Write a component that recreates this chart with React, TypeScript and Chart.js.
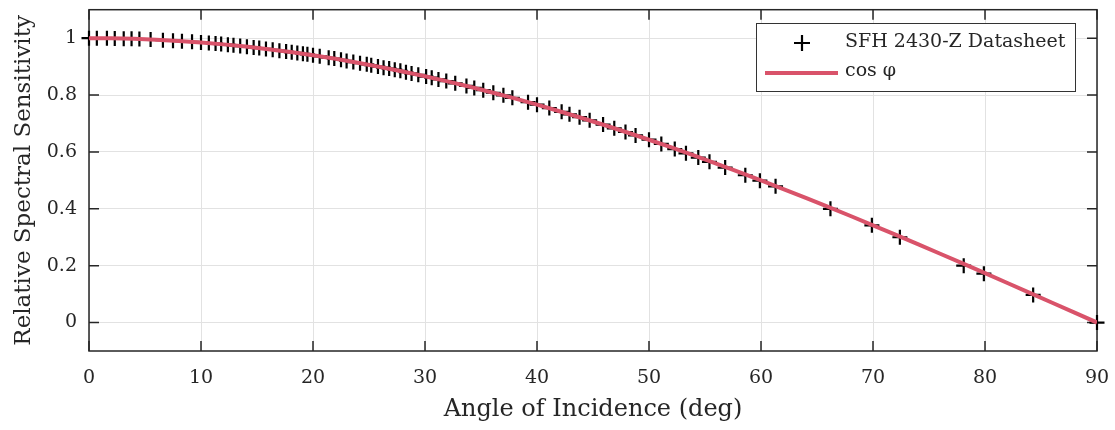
import React, { useEffect, useRef } from "react";
import { Chart, registerables } from "chart.js";

Chart.register(...registerables);

// ---- Data ----
const datasheetAngle = [
  0, 0.7, 1.6, 2.3, 3.1, 3.8, 4.5, 5.5, 6.6, 7.5,
  8.3, 9.2, 10.0, 10.7, 11.3, 11.8, 12.4, 12.9, 13.5, 14.1,
  14.7, 15.2, 15.8, 16.4, 17.0, 17.6, 18.1, 18.6, 19.1, 19.5,
  20.0, 20.6, 21.4, 21.9, 22.5, 23.0, 23.6, 24.2, 24.8, 25.2,
  25.8, 26.3, 26.8, 27.3, 27.8, 28.3, 28.8, 29.4, 30.1, 30.6,
  31.2, 31.9, 32.7, 33.7, 34.4, 35.2, 36.1, 37.0, 37.8, 39.2,
  40.0, 41.1, 42.2, 42.9, 43.8, 44.7, 45.9, 46.9, 47.9, 48.8,
  50.0, 51.1, 52.3, 53.3, 54.4, 55.4, 56.8, 58.6, 59.9, 61.3,
  66.2, 69.9, 72.4, 78.1, 79.9, 84.3, 90.0,
];
const datasheetValue = [
  1.0, 1.0, 1.0, 0.999, 0.998, 0.998, 0.997, 0.995, 0.993, 0.991,
  0.989, 0.987, 0.985, 0.983, 0.981, 0.979, 0.977, 0.975, 0.972, 0.97,
  0.967, 0.965, 0.962, 0.959, 0.956, 0.953, 0.95, 0.948, 0.945, 0.943,
  0.94, 0.936, 0.931, 0.928, 0.924, 0.92, 0.916, 0.912, 0.908, 0.905,
  0.9, 0.896, 0.893, 0.889, 0.885, 0.88, 0.876, 0.871, 0.865, 0.861,
  0.855, 0.849, 0.841, 0.832, 0.825, 0.817, 0.808, 0.799, 0.79, 0.775,
  0.766, 0.754, 0.741, 0.732, 0.722, 0.711, 0.696, 0.683, 0.67, 0.658,
  0.643, 0.628, 0.61, 0.595, 0.58, 0.565, 0.545, 0.518, 0.499, 0.479,
  0.4, 0.342, 0.3, 0.2, 0.172, 0.097, 0.0,
];
const cosAngle = [
  0, 2, 4, 6, 8, 10, 12, 14, 16, 18, 20, 22, 24, 26, 28, 30, 32, 34, 36, 38,
  40, 42, 44, 46, 48, 50, 52, 54, 56, 58, 60, 62, 64, 66, 68, 70, 72, 74, 76,
  78, 80, 82, 84, 86, 88, 90,
];
const cosValue = [
  1.0, 0.9994, 0.9976, 0.9945, 0.9903, 0.9848, 0.9781, 0.9703, 0.9613, 0.9511,
  0.9397, 0.9272, 0.9135, 0.8988, 0.8829, 0.866, 0.848, 0.829, 0.809, 0.788,
  0.766, 0.7431, 0.7193, 0.6947, 0.6691, 0.6428, 0.6157, 0.5878, 0.5592, 0.5299,
  0.5, 0.4695, 0.4384, 0.4067, 0.3746, 0.342, 0.309, 0.2756, 0.2419, 0.2079,
  0.1736, 0.1392, 0.1045, 0.0698, 0.0349, 0.0,
];
const xTicks = [0, 10, 20, 30, 40, 50, 60, 70, 80, 90];
const xTickLabels = ["0", "10", "20", "30", "40", "50", "60", "70", "80", "90"];
const yTicks = [0, 0.2, 0.4, 0.6, 0.8, 1];
const yTickLabels = ["0", "0.2", "0.4", "0.6", "0.8", "1"];
const seriesNames = ["SFH 2430-Z Datasheet", "cos \u03c6"];
const xTitle = "Angle of Incidence (deg)";
const yTitle = "Relative Spectral Sensitivity";

const FONT = "'DejaVu Serif', serif";
const TEXT = "#262626";
const RED = "#D9536A";

const boxPlugin = {
  id: "matlabBox",
  beforeDatasetsDraw(chart: any) {
    const { ctx, chartArea: a, scales } = chart;
    ctx.save();
    ctx.strokeStyle = TEXT;
    ctx.lineWidth = 1.5;
    ctx.strokeRect(a.left, a.top, a.right - a.left, a.bottom - a.top);
    const tl = 10;
    ctx.beginPath();
    xTicks.forEach((v) => {
      const px = scales.x.getPixelForValue(v);
      ctx.moveTo(px, a.bottom);
      ctx.lineTo(px, a.bottom - tl);
      ctx.moveTo(px, a.top);
      ctx.lineTo(px, a.top + tl);
    });
    yTicks.forEach((v) => {
      const py = scales.y.getPixelForValue(v);
      ctx.moveTo(a.left, py);
      ctx.lineTo(a.left + tl, py);
      ctx.moveTo(a.right, py);
      ctx.lineTo(a.right - tl, py);
    });
    ctx.stroke();
    ctx.restore();
  },
  afterDatasetsDraw(chart: any) {
    const { ctx } = chart;
    ctx.save();
    const bx = 756.5, by = 23.5, bw = 319, bh = 68;
    ctx.fillStyle = "#ffffff";
    ctx.fillRect(bx, by, bw, bh);
    ctx.strokeStyle = "#333333";
    ctx.lineWidth = 1;
    ctx.strokeRect(bx, by, bw, bh);
    // marker entry
    ctx.strokeStyle = "#000000";
    ctx.lineWidth = 2.2;
    ctx.beginPath();
    ctx.moveTo(802 - 8, 43);
    ctx.lineTo(802 + 8, 43);
    ctx.moveTo(802, 43 - 8);
    ctx.lineTo(802, 43 + 8);
    ctx.stroke();
    // line entry
    ctx.strokeStyle = RED;
    ctx.lineWidth = 4;
    ctx.beginPath();
    ctx.moveTo(765, 73);
    ctx.lineTo(838, 73);
    ctx.stroke();
    ctx.fillStyle = TEXT;
    ctx.font = `19px ${FONT}`;
    ctx.textBaseline = "middle";
    ctx.textAlign = "left";
    ctx.fillText(seriesNames[0], 845, 42);
    ctx.fillText(seriesNames[1], 845, 71);
    ctx.restore();
  },
};

const zeroPad = (s: any) => {
  s.paddingTop = 0;
  s.paddingBottom = 0;
  s.paddingLeft = 0;
  s.paddingRight = 0;
};

export default function App() {
  const ref = useRef<HTMLCanvasElement | null>(null);
  useEffect(() => {
    if (!ref.current) return;
    const chart = new Chart(ref.current, {
      type: "scatter",
      data: {
        datasets: [
          {
            label: seriesNames[1],
            data: cosAngle.map((x, i) => ({ x, y: cosValue[i] })),
            showLine: true,
            borderColor: RED,
            backgroundColor: RED,
            borderWidth: 4,
            pointRadius: 0,
            order: 0,
          },
          {
            label: seriesNames[0],
            data: datasheetAngle.map((x, i) => ({ x, y: datasheetValue[i] })),
            showLine: false,
            pointStyle: "cross",
            pointRadius: 7.5,
            borderWidth: 2.2,
            borderColor: "#000000",
            backgroundColor: "#000000",
            clip: false,
            order: 1,
          },
        ],
      },
      options: {
        responsive: false,
        animation: false,
        devicePixelRatio: 1,
        events: [],
        layout: { padding: { left: 0, right: 18, top: 7, bottom: 0 } },
        plugins: { legend: { display: false }, tooltip: { enabled: false } },
        scales: {
          x: {
            type: "linear",
            min: 0,
            max: 90,
            afterFit: (s: any) => {
              s.height = 79;
              zeroPad(s);
            },
            afterBuildTicks: (s: any) => {
              s.ticks = xTicks.map((v) => ({ value: v }));
            },
            grid: { color: "#e2e2e2", lineWidth: 1, drawTicks: false },
            border: { display: false },
            ticks: {
              padding: 16,
              color: TEXT,
              font: { family: FONT, size: 19 },
              maxRotation: 0,
              callback: (_v: any, i: number) => xTickLabels[i],
            },
            title: {
              display: true,
              text: xTitle,
              color: TEXT,
              font: { family: FONT, size: 24 },
              padding: { top: 0, bottom: 6 },
            },
          },
          y: {
            type: "linear",
            min: -0.1,
            max: 1.1,
            afterFit: (s: any) => {
              s.width = 89;
              zeroPad(s);
            },
            afterBuildTicks: (s: any) => {
              s.ticks = yTicks.map((v) => ({ value: v }));
            },
            grid: { color: "#e2e2e2", lineWidth: 1, drawTicks: false },
            border: { display: false },
            ticks: {
              padding: 12,
              color: TEXT,
              font: { family: FONT, size: 19 },
              callback: (_v: any, i: number) => yTickLabels[i],
            },
            title: {
              display: true,
              text: yTitle,
              color: TEXT,
              font: { family: FONT, size: 23 },
              padding: { top: 10, bottom: 0 },
            },
          },
        },
      },
      plugins: [boxPlugin],
    } as any);
    return () => chart.destroy();
  }, []);
  return (
    <div style={{ position: "fixed", left: 0, top: 0, width: 1115, height: 430, background: "#fff" }}>
      <canvas ref={ref} width={1115} height={430} style={{ width: 1115, height: 430, display: "block" }} />
    </div>
  );
}
